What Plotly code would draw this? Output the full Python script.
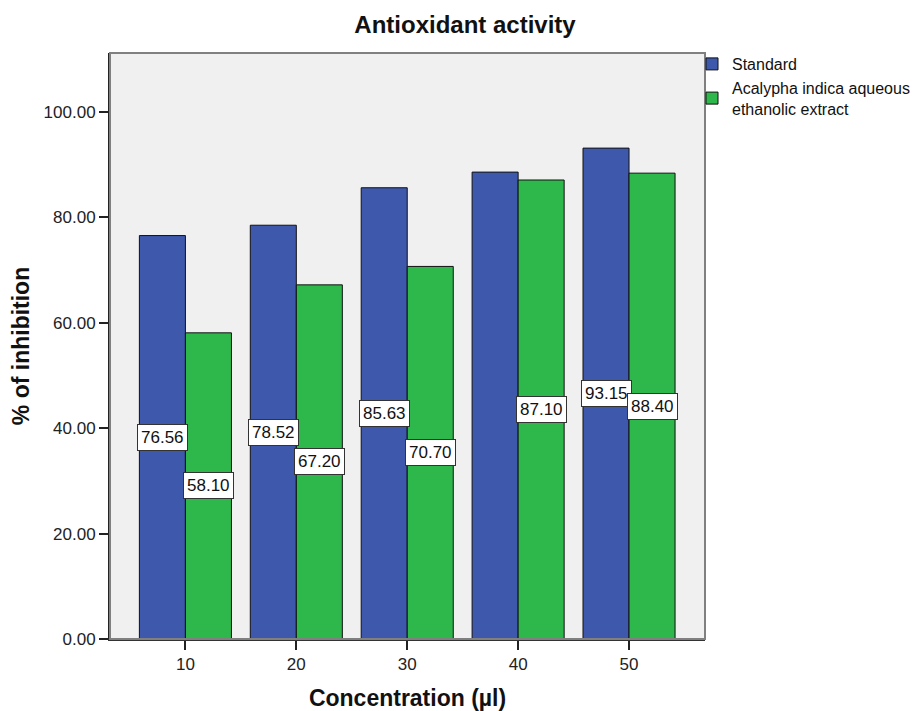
import plotly.graph_objects as go

concentrations = [10, 20, 30, 40, 50]
standard = [76.56, 78.52, 85.63, 88.60, 93.15]
extract = [58.10, 67.20, 70.70, 87.10, 88.40]
standard_labels = ["76.56", "78.52", "85.63", None, "93.15"]
extract_labels = ["58.10", "67.20", "70.70", "87.10", "88.40"]
y_ticks = [0, 20, 40, 60, 80, 100]

BAR_W = 4.15
FONT = "Liberation Sans, Arial, sans-serif"
W, H = 910, 703  # page body adds an 8px offset
L, R, T, B = 102, 213, 45, 72
PW, PH = W - L - R, H - T - B

fig = go.Figure()
fig.add_trace(go.Bar(
    x=concentrations, y=standard, name="Standard", width=BAR_W, offset=-BAR_W,
    marker=dict(color="#3E58AC", line=dict(color="#111111", width=1)),
))
fig.add_trace(go.Bar(
    x=concentrations, y=extract, name="Acalypha indica aqueous<br>ethanolic extract",
    width=BAR_W, offset=0,
    marker=dict(color="#2EB84B", line=dict(color="#111111", width=1)),
))

annotations = []
for c, v, lab in zip(concentrations, standard, standard_labels):
    if lab:
        annotations.append(dict(x=c - BAR_W / 2, y=v / 2, text=lab, showarrow=False,
                                bgcolor="white", bordercolor="#333333", borderwidth=1,
                                borderpad=3, font=dict(size=17, color="#111111", family=FONT)))
for c, v, lab in zip(concentrations, extract, extract_labels):
    if lab:
        annotations.append(dict(x=c + BAR_W / 2, y=v / 2, text=lab, showarrow=False,
                                bgcolor="white", bordercolor="#333333", borderwidth=1,
                                borderpad=3, font=dict(size=17, color="#111111", family=FONT)))

fig.update_layout(
    width=W, height=H,
    margin=dict(l=L, r=R, t=T, b=B, autoexpand=False),
    paper_bgcolor="white", plot_bgcolor="#F0F0F0",
    barmode="overlay",
    font=dict(family=FONT, size=17, color="#222222"),
    title=dict(text="<b>Antioxidant activity</b>", x=457 / W, xanchor="center", y=1 - 17 / H,
               yanchor="middle", font=dict(size=24, color="#111111", family=FONT)),
    showlegend=True,
    legend=dict(x=(684 - L) / PW, y=1 + 6 / PH, xanchor="left", yanchor="top",
                bgcolor="rgba(0,0,0,0)",
                font=dict(size=16, color="#111111", family=FONT),
                traceorder="normal"),
    annotations=annotations,
    shapes=[dict(type="rect", xref="paper", yref="paper", x0=0, y0=0, x1=1, y1=1,
                 line=dict(color="#808080", width=2), layer="above")],
)
fig.update_xaxes(
    range=[3.2, 56.85], tickvals=concentrations, ticktext=[str(c) for c in concentrations],
    showgrid=False, zeroline=False, showline=True, linecolor="#333333", linewidth=2,
    ticks="outside", ticklen=9, tickwidth=1.5, tickcolor="#222222", automargin=False,
    tickfont=dict(size=17, color="#222222"),
    title=dict(text="<b>Concentration (µl)</b>", font=dict(size=23, color="#111111", family=FONT), standoff=16),
)
fig.update_yaxes(
    range=[0, 111.2], tickvals=y_ticks, ticktext=[f"{t:.2f}" for t in y_ticks],
    showgrid=False, zeroline=False, showline=True, linecolor="#222222", linewidth=2,
    ticks="outside", ticklen=9, tickwidth=1.5, tickcolor="#222222", automargin=False,
    tickfont=dict(size=17, color="#222222"),
    title=dict(text="<b>% of inhibition</b>", font=dict(size=23, color="#111111", family=FONT), standoff=12),
)

fig.write_html("out.html")
